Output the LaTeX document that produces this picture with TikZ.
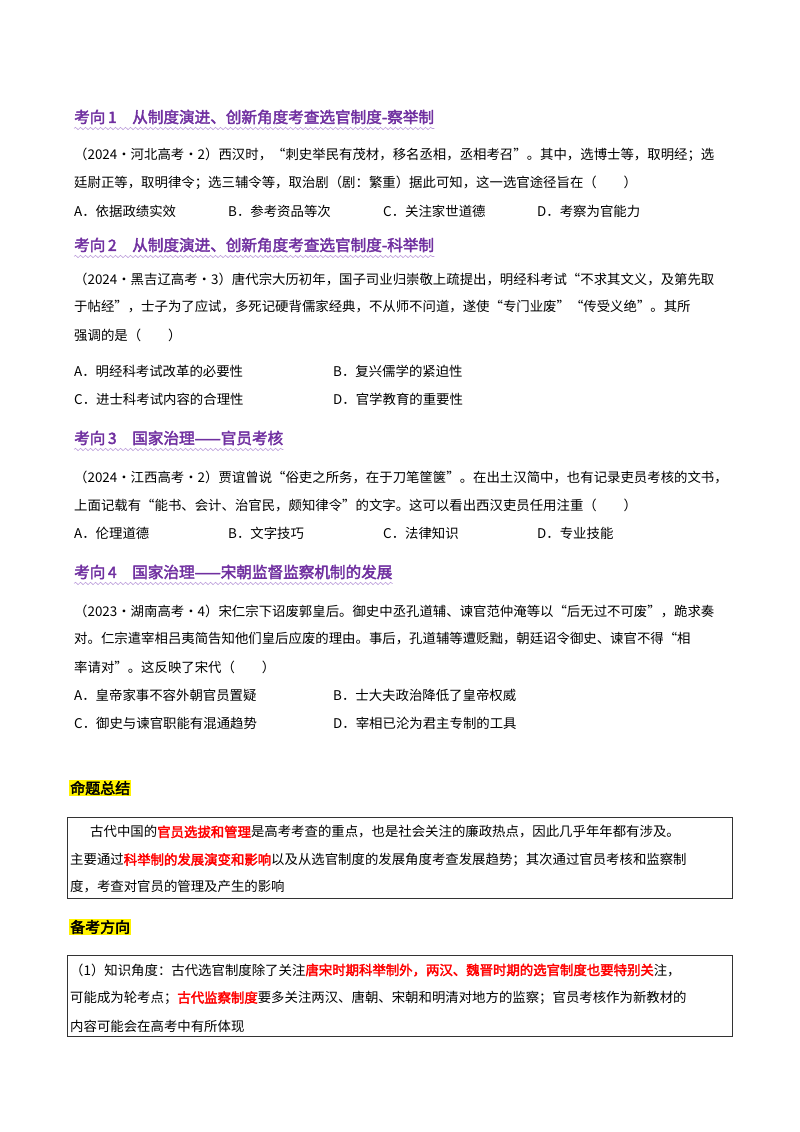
\documentclass[tikz,border=0pt]{standalone}
\usepackage{fontspec}
\setmainfont{Noto Sans CJK SC}[AutoFakeBold=2.5]
\usetikzlibrary{decorations.pathmorphing}
\definecolor{hpurple}{RGB}{112,48,160}
\definecolor{wpurple}{RGB}{190,160,220}
\definecolor{hred}{RGB}{255,0,0}
\tikzset{
  txt/.style={anchor=west,inner sep=0pt,font=\fontsize{13.4}{15}\selectfont,text=black},
  head/.style={anchor=west,inner sep=0pt,font=\fontsize{15.6}{17}\selectfont\bfseries,text=hpurple},
  wave/.style={draw=wpurple,line width=0.6pt,decorate,decoration={snake,amplitude=1.2pt,segment length=5pt}},
  hl/.style={anchor=west,inner sep=1pt,fill=yellow,font=\fontsize{15}{17}\selectfont\bfseries},
  frame/.style={draw=black!80,line width=1pt}
}
\newcommand{\rb}[1]{\textcolor{hred}{\bfseries #1}}
\begin{document}
\begin{tikzpicture}[x=1pt,y=-1pt]
\useasboundingbox (0,0) rectangle (800,1132);
% heading 1
\node[head] (h1) at (74,117) {考向\,1\quad 从制度演进、创新角度考查选官制度-察举制};
\draw[wave] (h1.south west)++(0,4) coordinate (w1a) -- (w1a -| h1.east);
\node[txt] (q1a) at (74,155) {（2024·河北高考·2）西汉时，“刺史举民有茂材，移名丞相，丞相考召”。其中，选博士等，取明经；选};
\node[txt] (q1b) at (74,183) {廷尉正等，取明律令；选三辅令等，取治剧（剧：繁重）据此可知，这一选官途径旨在（\qquad）};
\node[txt] (o1a) at (74,211) {A．依据政绩实效};
\node[txt] (o1b) at (228,211) {B．参考资品等次};
\node[txt] (o1c) at (383,211) {C．关注家世道德};
\node[txt] (o1d) at (537,211) {D．考察为官能力};
% heading 2
\node[head] (h2) at (74,245) {考向\,2\quad 从制度演进、创新角度考查选官制度-科举制};
\draw[wave] (h2.south west)++(0,4) coordinate (w2a) -- (w2a -| h2.east);
\node[txt] (q2a) at (74,279) {（2024·黑吉辽高考·3）唐代宗大历初年，国子司业归崇敬上疏提出，明经科考试“不求其文义，及第先取};
\node[txt] (q2b) at (74,307) {于帖经”，士子为了应试，多死记硬背儒家经典，不从师不问道，遂使“专门业废”“传受义绝”。其所};
\node[txt] (q2c) at (74,335) {强调的是（\qquad）};
\node[txt] (o2a) at (74,371) {A．明经科考试改革的必要性};
\node[txt] (o2b) at (333,371) {B．复兴儒学的紧迫性};
\node[txt] (o2c) at (74,399) {C．进士科考试内容的合理性};
\node[txt] (o2d) at (333,399) {D．官学教育的重要性};
% heading 3
\node[head] (h3) at (74,438) {考向\,3\quad 国家治理——官员考核};
\draw[wave] (h3.south west)++(0,4) coordinate (w3a) -- (w3a -| h3.east);
\node[txt] (q3a) at (74,477) {（2024·江西高考·2）贾谊曾说“俗吏之所务，在于刀笔筐箧”。在出土汉简中，也有记录吏员考核的文书，};
\node[txt] (q3b) at (74,505) {上面记载有“能书、会计、治官民，颇知律令”的文字。这可以看出西汉吏员任用注重（\qquad）};
\node[txt] (o3a) at (74,533) {A．伦理道德};
\node[txt] (o3b) at (228,533) {B．文字技巧};
\node[txt] (o3c) at (383,533) {C．法律知识};
\node[txt] (o3d) at (537,533) {D．专业技能};
% heading 4
\node[head] (h4) at (74,572) {考向\,4\quad 国家治理——宋朝监督监察机制的发展};
\draw[wave] (h4.south west)++(0,4) coordinate (w4a) -- (w4a -| h4.east);
\node[txt] (q4a) at (74,611) {（2023·湖南高考·4）宋仁宗下诏废郭皇后。御史中丞孔道辅、谏官范仲淹等以“后无过不可废”，跪求奏};
\node[txt] (q4b) at (74,639) {对。仁宗遣宰相吕夷简告知他们皇后应废的理由。事后，孔道辅等遭贬黜，朝廷诏令御史、谏官不得“相};
\node[txt] (q4c) at (74,667) {率请对”。这反映了宋代（\qquad）};
\node[txt] (o4a) at (74,695) {A．皇帝家事不容外朝官员置疑};
\node[txt] (o4b) at (333,695) {B．士大夫政治降低了皇帝权威};
\node[txt] (o4c) at (74,723) {C．御史与谏官职能有混通趋势};
\node[txt] (o4d) at (333,723) {D．宰相已沦为君主专制的工具};
% summary
\node[hl] (s1) at (69,788) {命题总结};
\draw[frame] (67,817) rectangle (732,898);
\node[txt] (b1a) at (90,832) {古代中国的\rb{官员选拔和管理}是高考考查的重点，也是社会关注的廉政热点，因此几乎年年都有涉及。};
\node[txt] (b1b) at (70,860) {主要通过\rb{科举制的发展演变和影响}以及从选官制度的发展角度考查发展趋势；其次通过官员考核和监察制};
\node[txt] (b1c) at (70,887) {度，考查对官员的管理及产生的影响};
\node[hl] (s2) at (69,927) {备考方向};
\draw[frame] (67,955) rectangle (732,1036);
\node[txt] (b2a) at (70,970) {（1）知识角度：古代选官制度除了关注\rb{唐宋时期科举制外，两汉、魏晋时期的选官制度也要特别关}注，};
\node[txt] (b2b) at (70,998) {可能成为轮考点；\rb{古代监察制度}要多关注两汉、唐朝、宋朝和明清对地方的监察；官员考核作为新教材的};
\node[txt] (b2c) at (70,1026) {内容可能会在高考中有所体现};
\end{tikzpicture}
\end{document}
